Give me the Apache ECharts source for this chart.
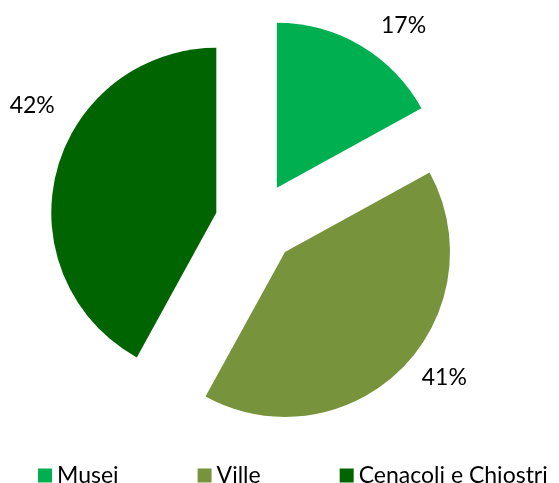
<!DOCTYPE html>
<html>
<head>
<meta charset="utf-8">
<script src="https://cdn.jsdelivr.net/npm/echarts@6/dist/echarts.min.js"></script>
<style>
  html, body { margin: 0; padding: 0; background: #ffffff; }
  #chart { width: 559px; height: 483px; }
</style>
</head>
<body>
<div id="chart"></div>
<script>
// Share of visits by type of site (percent)
const categories = ['Musei', 'Ville', 'Cenacoli e Chiostri'];
const shares = [17, 41, 42];

// Presentation
const sliceColors = ['#00B050', '#77933C', '#006400'];
const labelNudge = [[-5, -12], [-7, 2], [28, -64]];
const fontFamily = 'Lato, "Open Sans", sans-serif';

const chart = echarts.init(document.getElementById('chart'), null, { renderer: 'canvas' });

chart.setOption({
  animation: false,
  backgroundColor: '#ffffff',
  legend: {
    data: categories,
    left: 33,
    top: 459,
    padding: 5,
    icon: 'rect',
    itemWidth: 14,
    itemHeight: 14,
    itemGap: 79,
    selectedMode: false,
    textStyle: { fontFamily: fontFamily, fontSize: 23, color: '#000000' }
  },
  series: [{
    type: 'pie',
    center: [256, 223],
    radius: 165,
    startAngle: 90,
    clockwise: true,
    selectedMode: 'multiple',
    selectedOffset: 41,
    avoidLabelOverlap: false,
    emphasis: { disabled: true },
    label: {
      show: true,
      position: 'outside',
      formatter: '{c}%',
      fontFamily: fontFamily,
      fontSize: 23,
      color: '#000000'
    },
    labelLine: { show: false, length: 10, length2: 15 },
    labelLayout: function (p) {
      const n = labelNudge[p.dataIndex];
      return { dx: n[0], dy: n[1] };
    },
    data: categories.map(function (name, i) {
      return {
        name: name,
        value: shares[i],
        selected: true,
        itemStyle: { color: sliceColors[i] }
      };
    })
  }]
});
</script>
</body>
</html>
